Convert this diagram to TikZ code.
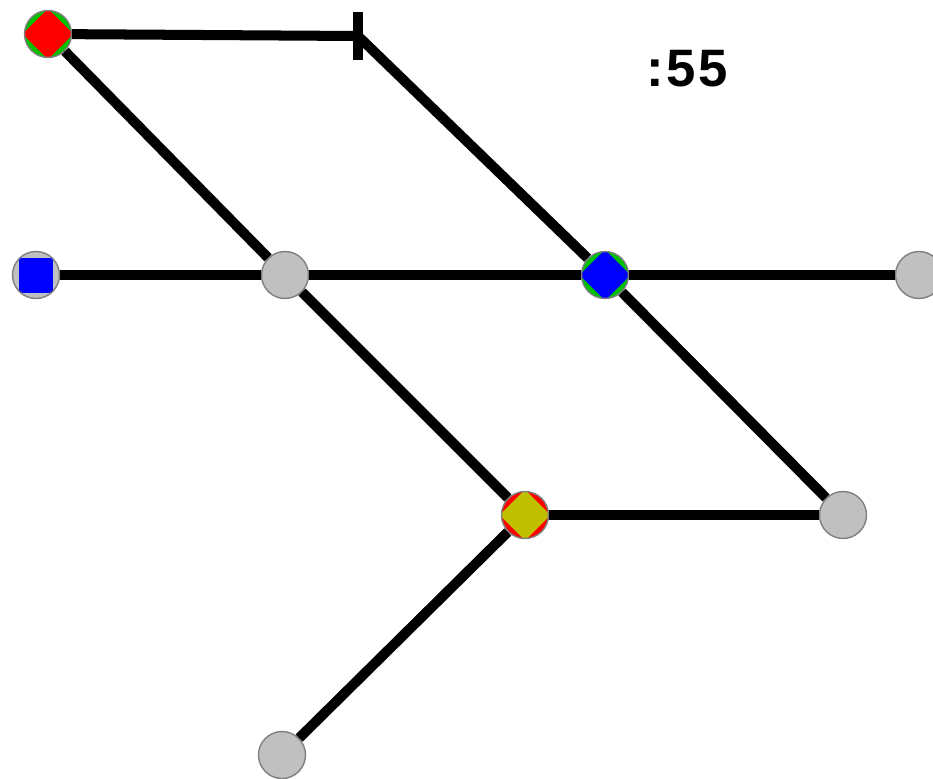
\documentclass[tikz,border=0pt]{standalone}
\usepackage{fontspec}
\setsansfont{Liberation Sans}
\definecolor{stopgray}{RGB}{192,192,192}
\definecolor{rimgray}{RGB}{128,128,128}
\definecolor{stopgreen}{RGB}{0,192,0}
\definecolor{stopyellow}{RGB}{192,192,0}
\tikzset{
  stop/.style={circle, draw=rimgray, line width=0.8pt, fill=#1,
    minimum size=0.94cm, inner sep=0pt},
  stop/.default=stopgray,
  diam/.style={path picture={\fill[#1] ([yshift=0.51cm]path picture bounding box.center)
    -- ++(0.51cm,-0.51cm) -- ++(-0.51cm,-0.51cm) -- ++(-0.51cm,0.51cm) -- cycle;}},
  sq/.style={path picture={\fill[#1] ([shift={(-0.35cm,-0.35cm)}]path picture bounding box.center)
    rectangle ++(0.7cm,0.7cm);}},
  track/.style={line width=5.7pt}
}
\begin{document}
\begin{tikzpicture}[x=0.02cm,y=-0.02cm]
\useasboundingbox (0,0) rectangle (933,778);

% stops
\node[stop=stopgreen, diam=red] (north) at (48,34) {};
\node[stop, sq=blue] (west) at (36,275) {};
\node[stop] (mid) at (285,275) {};
\node[stop=stopgreen, diam=blue] (hub) at (605,275) {};
\node[stop] (east) at (919,275) {};
\node[stop=red, diam=stopyellow] (junc) at (525,515) {};
\node[stop] (southeast) at (843,515) {};
\node[stop] (south) at (282,755) {};
\coordinate (tend) at (358,36);

% tracks
\draw[track] (north) -- (tend) -- (hub);
\draw[track] (tend) ++(0,-24) -- ++(0,48);
\draw[track] (north) -- (mid);
\draw[track] (west) -- (mid) -- (hub) -- (east);
\draw[track] (mid) -- (junc) -- (south);
\draw[track] (junc) -- (southeast);
\draw[track] (hub) -- (southeast);

\node[font=\sffamily\bfseries\fontsize{30}{30}\selectfont] (clock) at (687,69) {:\hspace{1.5pt}5\hspace{1.5pt}5};

\end{tikzpicture}
\end{document}
